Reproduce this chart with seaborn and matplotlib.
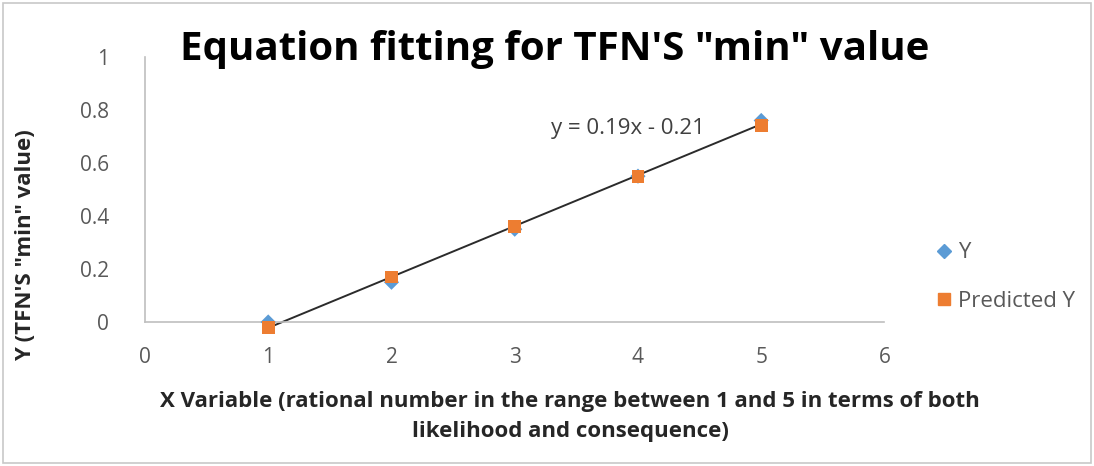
import numpy as np
import pandas as pd
import matplotlib
matplotlib.use("Agg")
import matplotlib.pyplot as plt
import seaborn as sns
from matplotlib.lines import Line2D
from matplotlib.patches import Rectangle

# values
x_vals = [1, 2, 3, 4, 5]
y_vals = [0.00, 0.15, 0.35, 0.55, 0.76]
pred_vals = [-0.02, 0.17, 0.36, 0.55, 0.74]
y_ticks = [0, 0.2, 0.4, 0.6, 0.8, 1]
x_ticks = [0, 1, 2, 3, 4, 5, 6]

df = pd.DataFrame({"X": x_vals, "Y": y_vals, "Predicted Y": pred_vals})

sns.set_style("white")
plt.rcParams["font.family"] = ["Open Sans", "DejaVu Sans"]

blue = "#5B9BD5"
orange = "#ED7D31"
grey_txt = "#595959"
axis_col = "#BFBFBF"

fig = plt.figure(figsize=(10.94, 4.66), dpi=100)
ax = fig.add_axes([0.1325, 0.309, 0.676, 0.569])

# trendline (linear fit of Y)
sns.regplot(data=df, x="X", y="Y", scatter=False, ci=None, truncate=True,
            line_kws={"color": "#2b2b2b", "lw": 1.4, "clip_on": False}, ax=ax)
sns.scatterplot(data=df, x="X", y="Y", marker="D", s=60, color=blue,
                edgecolor="none", ax=ax, clip_on=False, zorder=3)
sns.scatterplot(data=df, x="X", y="Predicted Y", marker="s", s=85, color=orange,
                edgecolor="none", ax=ax, clip_on=False, zorder=4)

ax.set_xlim(0, 6)
ax.set_ylim(0, 1)
ax.set_xticks(x_ticks)
ax.set_yticks(y_ticks)
ax.set_yticklabels(["0", "0.2", "0.4", "0.6", "0.8", "1"])
for s in ["top", "right"]:
    ax.spines[s].set_visible(False)
for s in ["left", "bottom"]:
    ax.spines[s].set_color(axis_col)
    ax.spines[s].set_linewidth(1.2)
ax.tick_params(axis="both", colors=axis_col, labelcolor=grey_txt, labelsize=15,
               direction="out", length=7, width=1.2)
ax.tick_params(axis="x", pad=11)
ax.tick_params(axis="y", pad=19)
ax.set_xlabel("")
ax.set_ylabel("")

ax.text(3.92, 0.73, "y = 0.19x - 0.21", fontsize=16, color="#404040",
        ha="center", va="center")

fig.text(0.507, 0.893, "Equation fitting for TFN'S \"min\" value", fontsize=29,
         fontweight="bold", color="black", ha="center", va="center")
fig.text(0.521, 0.107, "X Variable (rational number in the range between 1 and 5 in terms of both\n"
         "likelihood and consequence)", fontsize=16, fontweight="bold",
         color="#262626", ha="center", va="center", linespacing=1.55)
fig.text(0.023, 0.474, "Y (TFN'S \"min\" value)", fontsize=16, fontweight="bold",
         color="#262626", ha="center", va="center", rotation=90)

handles = [
    Line2D([], [], marker="D", color=blue, ls="none", markersize=7),
    Line2D([], [], marker="s", color=orange, ls="none", markersize=8),
]
fig.legend(handles, ["Y", "Predicted Y"], loc="center left",
           bbox_to_anchor=(0.834, 0.405), frameon=False, fontsize=16,
           labelcolor=grey_txt, labelspacing=1.25, handletextpad=0.15,
           handlelength=1.0)

fig.patches.append(Rectangle((0.003, 0.006), 0.994, 0.988, transform=fig.transFigure,
                             fill=False, edgecolor="#C8C8C8", lw=1.2))

fig.savefig("out.png", dpi=100)
